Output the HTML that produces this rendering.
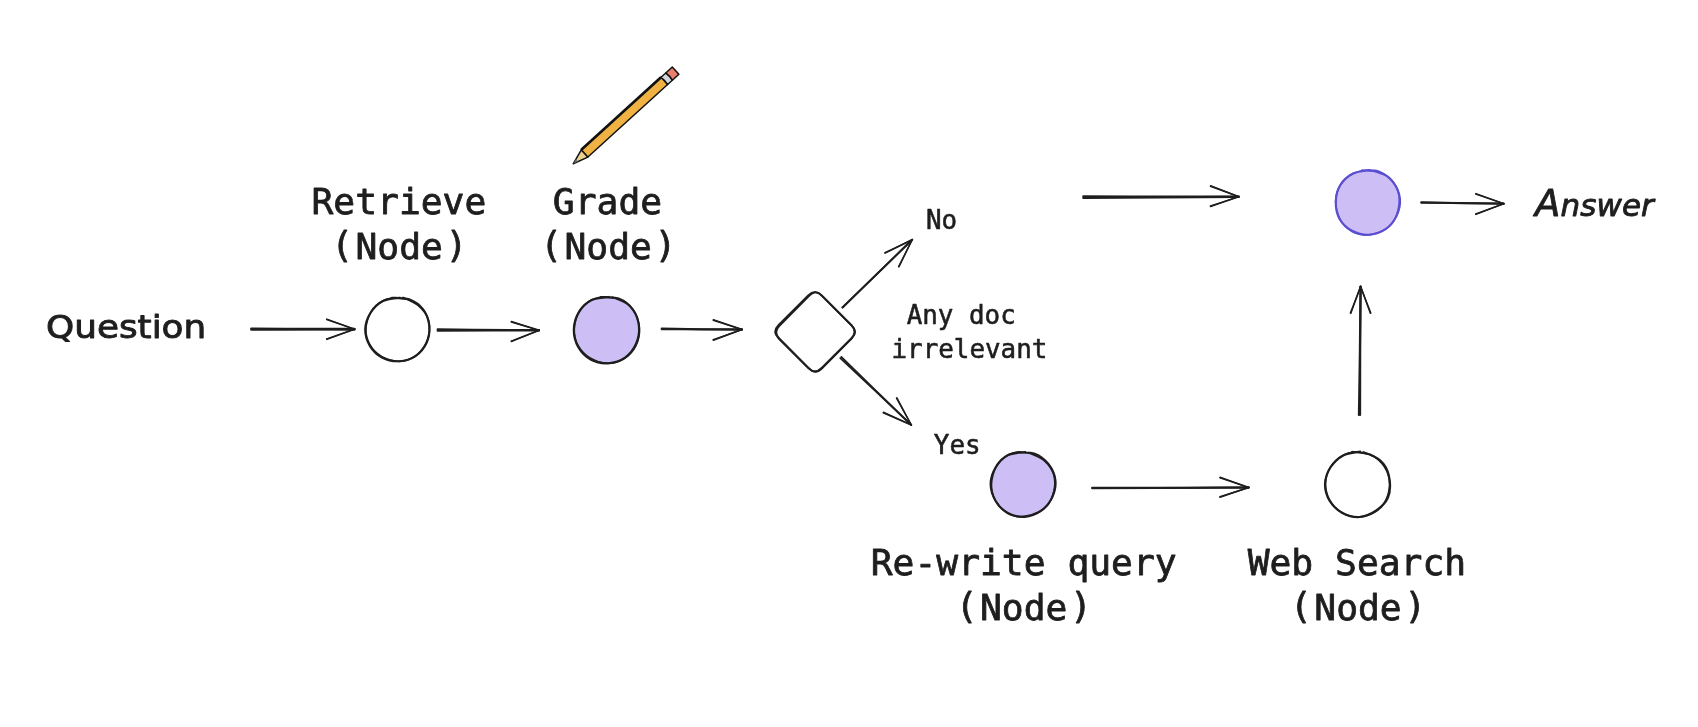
<!DOCTYPE html>
<html lang="en"><head><meta charset="utf-8"><title>Corrective RAG flow</title>
<style>
html,body{margin:0;padding:0;background:#fff;}
body{width:1698px;height:727px;overflow:hidden;}
svg{display:block;will-change:transform;}
</style></head><body>
<svg width="1698" height="727" viewBox="0 0 1698 727">
<rect width="1698" height="727" fill="#ffffff"/>
<path d="M251.30 328.70 Q302.90 329.20 354.50 328.90" fill="none" stroke="#1e1e1e" stroke-width="2.30" stroke-linecap="round"/>
<path d="M251.30 329.70 Q302.90 329.20 354.50 329.50" fill="none" stroke="#1e1e1e" stroke-width="2.30" stroke-linecap="round"/>
<path d="M326.78 319.06 Q340.58 324.30 354.52 329.15" fill="none" stroke="#1e1e1e" stroke-width="1.46" stroke-linecap="round"/>
<path d="M326.62 319.54 Q340.62 324.20 354.48 329.25" fill="none" stroke="#1e1e1e" stroke-width="1.46" stroke-linecap="round"/>
<path d="M326.62 338.96 Q340.62 334.25 354.48 329.15" fill="none" stroke="#1e1e1e" stroke-width="1.46" stroke-linecap="round"/>
<path d="M326.78 339.44 Q340.58 334.15 354.52 329.25" fill="none" stroke="#1e1e1e" stroke-width="1.46" stroke-linecap="round"/>
<path d="M437.50 329.25 Q488.35 329.98 539.20 329.90" fill="none" stroke="#1e1e1e" stroke-width="1.80" stroke-linecap="round"/>
<path d="M437.50 330.75 Q488.35 330.32 539.20 330.70" fill="none" stroke="#1e1e1e" stroke-width="1.80" stroke-linecap="round"/>
<path d="M511.37 321.46 Q525.24 326.05 539.21 330.25" fill="none" stroke="#1e1e1e" stroke-width="1.46" stroke-linecap="round"/>
<path d="M511.23 321.94 Q525.26 325.95 539.19 330.35" fill="none" stroke="#1e1e1e" stroke-width="1.46" stroke-linecap="round"/>
<path d="M511.21 341.07 Q525.27 335.85 539.18 330.25" fill="none" stroke="#1e1e1e" stroke-width="1.46" stroke-linecap="round"/>
<path d="M511.39 341.53 Q525.23 335.75 539.22 330.35" fill="none" stroke="#1e1e1e" stroke-width="1.46" stroke-linecap="round"/>
<path d="M661.70 328.40 Q701.85 329.27 742.00 329.35" fill="none" stroke="#1e1e1e" stroke-width="2.00" stroke-linecap="round"/>
<path d="M661.70 329.20 Q701.85 329.03 742.00 329.65" fill="none" stroke="#1e1e1e" stroke-width="2.00" stroke-linecap="round"/>
<path d="M713.38 319.76 Q727.63 324.80 742.02 329.45" fill="none" stroke="#1e1e1e" stroke-width="1.46" stroke-linecap="round"/>
<path d="M713.22 320.24 Q727.67 324.70 741.98 329.55" fill="none" stroke="#1e1e1e" stroke-width="1.46" stroke-linecap="round"/>
<path d="M713.21 339.77 Q727.67 334.80 741.98 329.45" fill="none" stroke="#1e1e1e" stroke-width="1.46" stroke-linecap="round"/>
<path d="M713.39 340.23 Q727.63 334.70 742.02 329.55" fill="none" stroke="#1e1e1e" stroke-width="1.46" stroke-linecap="round"/>
<path d="M842.33 307.32 Q877.51 273.76 912.13 239.63" fill="none" stroke="#1e1e1e" stroke-width="1.90" stroke-linecap="round"/>
<path d="M842.67 307.68 Q877.19 273.44 912.27 239.77" fill="none" stroke="#1e1e1e" stroke-width="1.90" stroke-linecap="round"/>
<path d="M884.89 252.78 Q898.62 246.39 912.18 239.66" fill="none" stroke="#1e1e1e" stroke-width="1.46" stroke-linecap="round"/>
<path d="M885.11 253.22 Q898.58 246.31 912.22 239.74" fill="none" stroke="#1e1e1e" stroke-width="1.46" stroke-linecap="round"/>
<path d="M898.58 266.59 Q905.54 253.22 912.16 239.68" fill="none" stroke="#1e1e1e" stroke-width="1.46" stroke-linecap="round"/>
<path d="M899.02 266.81 Q905.46 253.18 912.24 239.72" fill="none" stroke="#1e1e1e" stroke-width="1.46" stroke-linecap="round"/>
<path d="M841.32 356.96 Q876.07 391.23 911.37 424.93" fill="none" stroke="#1e1e1e" stroke-width="1.80" stroke-linecap="round"/>
<path d="M840.28 358.04 Q876.03 391.27 911.23 425.07" fill="none" stroke="#1e1e1e" stroke-width="1.80" stroke-linecap="round"/>
<path d="M896.92 397.88 Q903.96 411.52 911.34 424.98" fill="none" stroke="#1e1e1e" stroke-width="1.46" stroke-linecap="round"/>
<path d="M896.48 398.12 Q904.04 411.48 911.26 425.02" fill="none" stroke="#1e1e1e" stroke-width="1.46" stroke-linecap="round"/>
<path d="M883.40 412.27 Q897.28 418.80 911.32 424.95" fill="none" stroke="#1e1e1e" stroke-width="1.46" stroke-linecap="round"/>
<path d="M883.20 412.73 Q897.32 418.70 911.28 425.05" fill="none" stroke="#1e1e1e" stroke-width="1.46" stroke-linecap="round"/>
<path d="M1083.30 196.40 Q1161.05 196.90 1238.80 196.60" fill="none" stroke="#1e1e1e" stroke-width="2.20" stroke-linecap="round"/>
<path d="M1083.30 198.00 Q1161.05 197.00 1238.80 196.80" fill="none" stroke="#1e1e1e" stroke-width="2.20" stroke-linecap="round"/>
<path d="M1210.59 185.77 Q1224.63 191.40 1238.82 196.65" fill="none" stroke="#1e1e1e" stroke-width="1.46" stroke-linecap="round"/>
<path d="M1210.41 186.23 Q1224.67 191.30 1238.78 196.75" fill="none" stroke="#1e1e1e" stroke-width="1.46" stroke-linecap="round"/>
<path d="M1210.42 206.06 Q1224.67 201.55 1238.78 196.65" fill="none" stroke="#1e1e1e" stroke-width="1.46" stroke-linecap="round"/>
<path d="M1210.58 206.54 Q1224.63 201.45 1238.82 196.75" fill="none" stroke="#1e1e1e" stroke-width="1.46" stroke-linecap="round"/>
<path d="M1421.31 202.15 Q1462.50 203.27 1503.70 203.60" fill="none" stroke="#1e1e1e" stroke-width="2.00" stroke-linecap="round"/>
<path d="M1421.29 202.85 Q1462.50 202.93 1503.70 203.80" fill="none" stroke="#1e1e1e" stroke-width="2.00" stroke-linecap="round"/>
<path d="M1475.88 193.56 Q1489.73 198.80 1503.72 203.65" fill="none" stroke="#1e1e1e" stroke-width="1.46" stroke-linecap="round"/>
<path d="M1475.72 194.04 Q1489.77 198.70 1503.68 203.75" fill="none" stroke="#1e1e1e" stroke-width="1.46" stroke-linecap="round"/>
<path d="M1475.71 213.97 Q1489.77 209.00 1503.68 203.65" fill="none" stroke="#1e1e1e" stroke-width="1.46" stroke-linecap="round"/>
<path d="M1475.89 214.43 Q1489.73 208.90 1503.72 203.75" fill="none" stroke="#1e1e1e" stroke-width="1.46" stroke-linecap="round"/>
<path d="M1358.90 414.99 Q1360.07 350.80 1360.45 286.60" fill="none" stroke="#1e1e1e" stroke-width="2.10" stroke-linecap="round"/>
<path d="M1360.10 415.01 Q1360.03 350.80 1360.75 286.60" fill="none" stroke="#1e1e1e" stroke-width="2.10" stroke-linecap="round"/>
<path d="M1350.37 313.11 Q1355.65 299.92 1360.55 286.58" fill="none" stroke="#1e1e1e" stroke-width="1.46" stroke-linecap="round"/>
<path d="M1350.83 313.29 Q1355.55 299.88 1360.65 286.62" fill="none" stroke="#1e1e1e" stroke-width="1.46" stroke-linecap="round"/>
<path d="M1370.37 313.29 Q1365.65 299.88 1360.55 286.62" fill="none" stroke="#1e1e1e" stroke-width="1.46" stroke-linecap="round"/>
<path d="M1370.83 313.11 Q1365.55 299.92 1360.65 286.58" fill="none" stroke="#1e1e1e" stroke-width="1.46" stroke-linecap="round"/>
<path d="M1092.20 487.65 Q1170.45 487.80 1248.70 487.15" fill="none" stroke="#1e1e1e" stroke-width="2.00" stroke-linecap="round"/>
<path d="M1092.20 488.35 Q1170.45 487.70 1248.70 487.85" fill="none" stroke="#1e1e1e" stroke-width="2.00" stroke-linecap="round"/>
<path d="M1220.08 477.26 Q1234.33 482.55 1248.72 487.45" fill="none" stroke="#1e1e1e" stroke-width="1.46" stroke-linecap="round"/>
<path d="M1219.92 477.74 Q1234.37 482.45 1248.68 487.55" fill="none" stroke="#1e1e1e" stroke-width="1.46" stroke-linecap="round"/>
<path d="M1219.92 496.76 Q1234.37 492.30 1248.68 487.45" fill="none" stroke="#1e1e1e" stroke-width="1.46" stroke-linecap="round"/>
<path d="M1220.08 497.24 Q1234.33 492.20 1248.72 487.55" fill="none" stroke="#1e1e1e" stroke-width="1.46" stroke-linecap="round"/>
<ellipse cx="397.5" cy="329.4" rx="31.7" ry="31.9" fill="#ffffff" stroke="none"/>
<path d="M391.95 297.74 C394.81 298.00 403.87 297.36 409.08 299.32 C414.28 301.27 419.80 305.06 423.17 309.46 C426.53 313.87 428.69 320.20 429.26 325.76 C429.83 331.32 428.88 337.78 426.59 342.84 C424.30 347.90 420.09 353.05 415.52 356.12 C410.95 359.18 404.68 360.96 399.16 361.24 C393.64 361.52 387.27 360.36 382.39 357.80 C377.51 355.24 372.73 350.67 369.86 345.89 C367.00 341.11 365.08 334.65 365.21 329.12 C365.33 323.59 367.65 317.41 370.61 312.71 C373.57 308.01 378.13 303.43 382.98 300.93 C387.83 298.42 396.92 298.23 399.70 297.69" fill="none" stroke="#1e1e1e" stroke-width="2.15" stroke-linecap="round"/>
<path d="M403.09 297.50 C405.59 298.82 413.88 301.84 418.07 305.45 C422.25 309.06 426.44 314.02 428.19 319.17 C429.94 324.31 429.81 330.97 428.54 336.32 C427.26 341.68 424.26 347.28 420.54 351.27 C416.82 355.27 411.41 358.88 406.21 360.32 C401.02 361.76 394.58 361.40 389.37 359.92 C384.16 358.44 378.74 355.30 374.95 351.44 C371.17 347.58 367.89 342.02 366.65 336.76 C365.40 331.50 365.89 325.11 367.48 319.88 C369.08 314.64 372.21 308.98 376.22 305.34 C380.23 301.71 386.19 299.05 391.54 298.07 C396.89 297.09 405.53 299.23 408.33 299.46" fill="none" stroke="#1e1e1e" stroke-width="1.72" stroke-linecap="round"/>
<ellipse cx="606.7" cy="330.0" rx="32.5" ry="33.2" fill="#cdbff6" stroke="none"/>
<path d="M601.01 297.03 C603.94 297.30 613.30 296.54 618.60 298.61 C623.90 300.68 629.41 304.82 632.80 309.43 C636.18 314.03 638.39 320.52 638.93 326.25 C639.48 331.97 638.38 338.55 636.06 343.77 C633.75 349.00 629.66 354.37 625.05 357.61 C620.44 360.85 614.07 362.86 608.40 363.22 C602.74 363.59 596.08 362.49 591.07 359.81 C586.06 357.14 581.20 352.20 578.32 347.19 C575.44 342.17 573.73 335.51 573.80 329.71 C573.87 323.91 575.76 317.33 578.73 312.38 C581.71 307.44 586.61 302.62 591.65 300.05 C596.69 297.48 606.08 297.46 608.96 296.94" fill="none" stroke="#1e1e1e" stroke-width="2.15" stroke-linecap="round"/>
<path d="M612.36 297.23 C614.99 298.47 623.91 300.94 628.15 304.65 C632.38 308.36 636.01 314.04 637.78 319.48 C639.55 324.91 639.93 331.64 638.76 337.26 C637.59 342.88 634.61 349.01 630.76 353.19 C626.92 357.37 621.08 360.90 615.68 362.33 C610.28 363.76 603.72 363.33 598.37 361.77 C593.01 360.20 587.45 356.98 583.56 352.96 C579.67 348.95 576.34 343.16 575.03 337.67 C573.73 332.18 574.13 325.52 575.73 320.03 C577.34 314.53 580.53 308.53 584.66 304.70 C588.79 300.87 594.99 298.01 600.52 297.02 C606.05 296.03 614.95 298.46 617.84 298.74" fill="none" stroke="#1e1e1e" stroke-width="1.72" stroke-linecap="round"/>
<ellipse cx="1367.6" cy="202.4" rx="31.9" ry="32.4" fill="#cdbff6" stroke="none"/>
<path d="M1362.05 170.44 C1364.92 170.65 1374.10 169.75 1379.29 171.73 C1384.49 173.71 1389.79 177.82 1393.23 182.30 C1396.68 186.79 1399.38 193.06 1399.94 198.66 C1400.50 204.26 1398.98 210.82 1396.58 215.91 C1394.17 221.01 1390.08 226.10 1385.53 229.23 C1380.98 232.36 1374.77 234.41 1369.27 234.70 C1363.77 234.99 1357.46 233.56 1352.53 230.98 C1347.60 228.40 1342.50 224.01 1339.70 219.20 C1336.91 214.39 1335.69 207.78 1335.77 202.12 C1335.85 196.45 1337.29 189.98 1340.17 185.22 C1343.04 180.46 1348.08 176.10 1353.03 173.57 C1357.97 171.03 1367.03 170.58 1369.83 169.99" fill="none" stroke="#5b4fd0" stroke-width="2.15" stroke-linecap="round"/>
<path d="M1373.06 170.96 C1375.68 172.04 1384.62 173.95 1388.81 177.47 C1393.01 180.99 1396.65 186.79 1398.23 192.09 C1399.81 197.40 1399.49 203.87 1398.28 209.31 C1397.06 214.75 1394.59 220.74 1390.92 224.74 C1387.25 228.75 1381.53 231.78 1376.25 233.36 C1370.96 234.94 1364.52 235.58 1359.20 234.24 C1353.88 232.91 1348.09 229.41 1344.34 225.34 C1340.59 221.28 1337.92 215.30 1336.69 209.84 C1335.47 204.38 1335.36 197.88 1336.97 192.59 C1338.57 187.31 1342.22 181.77 1346.33 178.13 C1350.44 174.48 1356.27 171.77 1361.63 170.74 C1367.00 169.71 1375.70 171.74 1378.52 171.94" fill="none" stroke="#5b4fd0" stroke-width="1.72" stroke-linecap="round"/>
<ellipse cx="1023.0" cy="484.2" rx="31.9" ry="32.2" fill="#cdbff6" stroke="none"/>
<path d="M1017.48 452.58 C1020.35 452.77 1029.51 451.76 1034.70 453.70 C1039.89 455.65 1045.15 459.79 1048.61 464.25 C1052.06 468.71 1054.86 474.90 1055.43 480.47 C1056.00 486.04 1054.47 492.60 1052.05 497.67 C1049.64 502.74 1045.51 507.68 1040.95 510.89 C1036.39 514.09 1030.23 516.54 1024.70 516.89 C1019.16 517.24 1012.60 515.70 1007.73 512.99 C1002.85 510.29 998.32 505.52 995.47 500.67 C992.62 495.83 990.58 489.50 990.62 483.91 C990.65 478.33 992.76 472.01 995.68 467.19 C998.61 462.38 1003.25 457.54 1008.17 455.04 C1013.09 452.53 1022.38 452.64 1025.22 452.16" fill="none" stroke="#1e1e1e" stroke-width="2.15" stroke-linecap="round"/>
<path d="M1028.50 452.70 C1031.02 453.94 1039.43 456.58 1043.61 460.13 C1047.79 463.68 1051.84 468.81 1053.56 473.98 C1055.29 479.14 1055.14 485.71 1053.94 491.12 C1052.74 496.54 1050.11 502.51 1046.38 506.47 C1042.66 510.43 1036.92 513.29 1031.62 514.87 C1026.31 516.45 1019.86 517.30 1014.57 515.96 C1009.28 514.63 1003.64 510.91 999.90 506.85 C996.15 502.79 993.26 496.96 992.10 491.59 C990.95 486.22 991.42 479.95 992.98 474.65 C994.54 469.34 997.47 463.54 1001.46 459.77 C1005.44 455.99 1011.49 452.96 1016.90 452.00 C1022.30 451.05 1031.05 453.69 1033.88 454.03" fill="none" stroke="#1e1e1e" stroke-width="1.72" stroke-linecap="round"/>
<ellipse cx="1357.9" cy="484.2" rx="32.1" ry="32.2" fill="#ffffff" stroke="none"/>
<path d="M1352.19 451.73 C1355.06 452.17 1364.17 452.27 1369.42 454.35 C1374.68 456.43 1380.35 459.83 1383.73 464.20 C1387.12 468.56 1389.08 474.93 1389.75 480.56 C1390.43 486.19 1390.11 492.95 1387.79 497.97 C1385.46 502.99 1380.52 507.51 1375.82 510.69 C1371.13 513.87 1365.17 516.65 1359.62 517.04 C1354.06 517.42 1347.50 515.69 1342.52 513.01 C1337.54 510.33 1332.64 505.81 1329.72 500.96 C1326.80 496.11 1324.86 489.53 1325.00 483.91 C1325.14 478.30 1327.52 472.02 1330.55 467.28 C1333.58 462.53 1338.24 458.05 1343.18 455.43 C1348.12 452.81 1357.34 452.21 1360.17 451.57" fill="none" stroke="#1e1e1e" stroke-width="2.15" stroke-linecap="round"/>
<path d="M1363.57 451.92 C1366.10 453.27 1374.64 456.33 1378.72 460.04 C1382.79 463.75 1386.33 469.01 1388.03 474.19 C1389.72 479.36 1389.96 485.69 1388.88 491.09 C1387.80 496.49 1385.22 502.48 1381.54 506.58 C1377.86 510.68 1372.16 514.12 1366.80 515.69 C1361.45 517.25 1354.77 517.44 1349.41 515.97 C1344.05 514.50 1338.48 510.90 1334.65 506.85 C1330.81 502.81 1327.68 497.09 1326.40 491.69 C1325.13 486.28 1325.29 479.69 1326.98 474.42 C1328.66 469.15 1332.36 463.75 1336.51 460.09 C1340.65 456.42 1346.46 453.39 1351.84 452.42 C1357.21 451.45 1365.95 453.95 1368.77 454.25" fill="none" stroke="#1e1e1e" stroke-width="1.72" stroke-linecap="round"/>
<path d="M808.28 295.42 Q815.00 288.70 821.72 295.42 L851.28 324.98 Q858.00 331.70 851.28 338.42 L821.72 367.98 Q815.00 374.70 808.28 367.98 L778.72 338.42 Q772.00 331.70 778.72 324.98 Z" fill="none" stroke="#1e1e1e" stroke-width="2.1" stroke-linejoin="round"/>
<path d="M809.72 295.44 Q815.70 289.40 821.68 295.44 L852.12 326.16 Q858.10 332.20 852.12 338.24 L821.68 368.96 Q815.70 375.00 809.72 368.96 L779.28 338.24 Q773.30 332.20 779.28 326.16 Z" fill="none" stroke="#1e1e1e" stroke-width="1.6" stroke-linejoin="round"/>

<g transform="translate(573.2,163.8) rotate(-42.3)" stroke-linejoin="round">
<polygon points="0,0 15.4,-4.9 15.4,4.9" fill="#e8d28e" stroke="#111" stroke-width="1.5"/>
<polygon points="0.3,0 5,-1.6 5,1.6" fill="#6b6b6b"/>
<rect x="15.4" y="-4.9" width="107.8" height="9.8" fill="#f0b243" stroke="#111" stroke-width="1.5"/>
<line x1="15.4" y1="-4.9" x2="123.2" y2="-4.9" stroke="#111" stroke-width="2.6"/>
<path d="M123.2 -4.9 L129.6 -4.9 Q130.6 0 129.6 4.9 L123.2 4.9 Q124.2 0 123.2 -4.9 Z" fill="#d3d7db" stroke="#111" stroke-width="1.5"/>
<path d="M129.6 -4.9 L138.4 -4.9 L138.4 4.9 L129.6 4.9 Q130.6 0 129.6 -4.9 Z" fill="#e8806c" stroke="#111" stroke-width="1.5"/>
</g>

<g font-family="'DejaVu Sans Mono','Liberation Mono',monospace" fill="#1e1e1e" stroke="#1e1e1e" stroke-width="0.8" stroke-linejoin="round">
<text x="398.9" y="214.2" font-size="36.30" text-anchor="middle" >Retrieve</text>
<text x="399.2" y="258.7" font-size="36.30" text-anchor="middle" ><tspan dy="-1.6">(</tspan><tspan dy="1.6" dx="2.5">Node</tspan><tspan dy="-1.6" dx="2.5">)</tspan></text>
<text x="607.5" y="214.2" font-size="36.30" text-anchor="middle" >Grade</text>
<text x="608.2" y="258.7" font-size="36.30" text-anchor="middle" ><tspan dy="-1.6">(</tspan><tspan dy="1.6" dx="2.5">Node</tspan><tspan dy="-1.6" dx="2.5">)</tspan></text>
<text x="1023.7" y="574.6" font-size="36.30" text-anchor="middle" >Re-write query</text>
<text x="1023.7" y="619.6" font-size="36.30" text-anchor="middle" ><tspan dy="-1.6">(</tspan><tspan dy="1.6" dx="2.5">Node</tspan><tspan dy="-1.6" dx="2.5">)</tspan></text>
<text x="1356.9" y="574.6" font-size="36.30" text-anchor="middle" >Web Search</text>
<text x="1358.0" y="619.6" font-size="36.30" text-anchor="middle" ><tspan dy="-1.6">(</tspan><tspan dy="1.6" dx="2.5">Node</tspan><tspan dy="-1.6" dx="2.5">)</tspan></text>
</g>
<g font-family="'DejaVu Sans Mono','Liberation Mono',monospace" fill="#1e1e1e" stroke="#1e1e1e" stroke-width="0.55" stroke-linejoin="round">
<text x="941.6" y="229.2" font-size="25.90" text-anchor="middle" >No</text>
<text x="961.2" y="323.7" font-size="25.90" text-anchor="middle" >Any doc</text>
<text x="969.4" y="357.5" font-size="25.90" text-anchor="middle" >irrelevant</text>
<text x="957.2" y="453.7" font-size="25.90" text-anchor="middle" >Yes</text>
</g>
<g font-family="'DejaVu Sans','Liberation Sans',sans-serif" fill="#1e1e1e" stroke="#1e1e1e" stroke-width="0.9" stroke-linejoin="round">
<text transform="translate(126.1,338.3) scale(1.12,1)" x="0" y="0" font-size="32" text-anchor="middle" letter-spacing="0">Question</text>
<text transform="translate(1594.5,215.5) scale(1,1)" x="0" y="0" font-size="31" text-anchor="middle" font-style="italic" letter-spacing="0.1"><tspan font-size="37">A</tspan>nswer</text>
</g>
</svg>
</body></html>
